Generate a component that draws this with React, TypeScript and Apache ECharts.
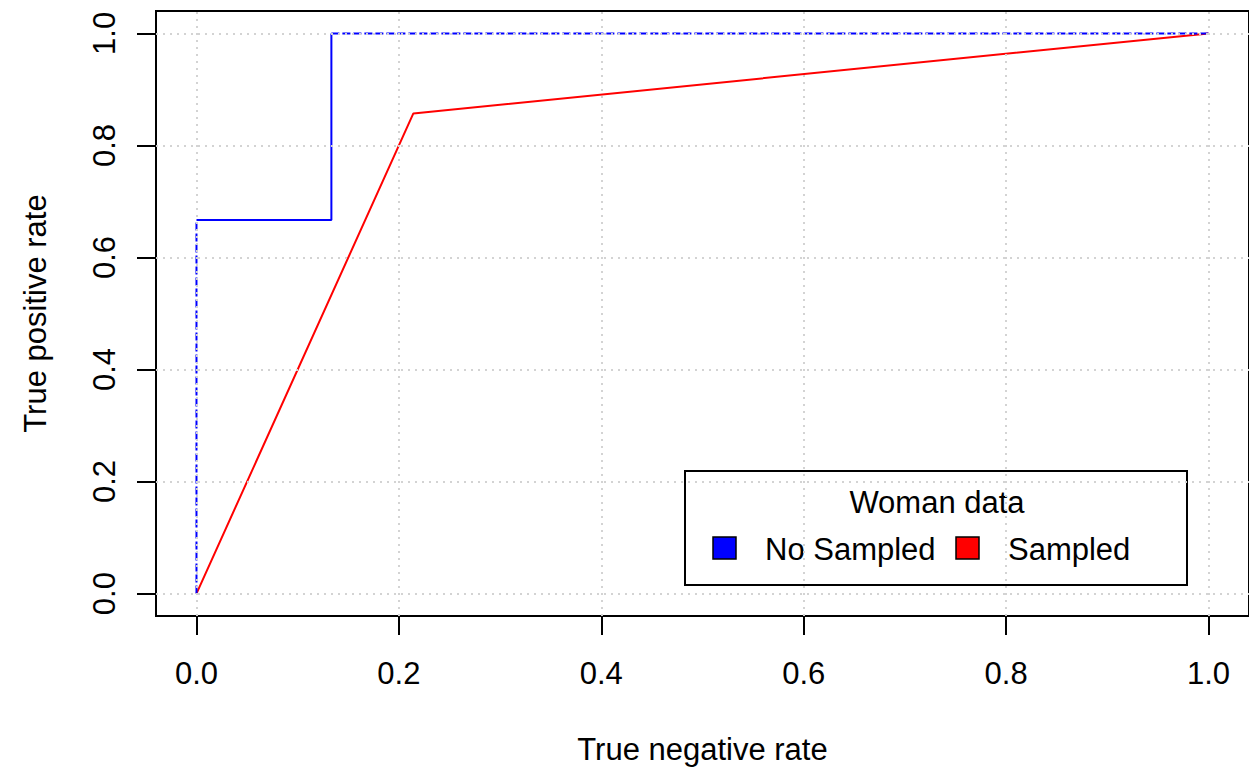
import React, { useEffect, useRef } from "react";
import * as echarts from "echarts";

const tickValues = [0, 0.2, 0.4, 0.6, 0.8, 1.0];
const noSampledX = [0, 0, 0.1333, 0.1333, 1];
const noSampledY = [0, 0.6667, 0.6667, 1, 1];
const sampledX = [0, 0.2143, 1];
const sampledY = [0, 0.8571, 1];
const legendTitle = "Woman data";
const legendNames = ["No Sampled", "Sampled"];
const seriesColors = ["#0000ff", "#ff0000"];

const FONT = "'Liberation Sans', Arial, sans-serif";

export default function App() {
  const ref = useRef<HTMLDivElement>(null);
  useEffect(() => {
    if (!ref.current) return;
    const chart = echarts.init(ref.current, null, { renderer: "svg" });
    const pts = (xs: number[], ys: number[], idx: number[]) => idx.map((i) => [xs[i], ys[i]]);
    const gridLine = { type: [2, 5] as any, color: "#d3d3d3", width: 2 };
    const axisCommon = {
      type: "value" as const,
      min: -0.04,
      max: 1.04,
      splitLine: { show: false },
      axisLine: { show: true, onZero: false, lineStyle: { color: "#000", width: 2 } },
      axisTick: { show: true, inside: false, length: 19, lineStyle: { color: "#000", width: 2 }, customValues: tickValues },
      nameTextStyle: { color: "#000", fontSize: 31, fontFamily: FONT },
      nameLocation: "middle" as const,
    };
    chart.setOption({
      animation: false,
      backgroundColor: "#fff",
      grid: { left: 156, top: 11, width: 1102, height: 605, show: true, borderColor: "#000", borderWidth: 2, backgroundColor: "transparent" },
      xAxis: {
        ...axisCommon,
        name: "True negative rate",
        nameGap: 118,
        axisLabel: {
          customValues: tickValues,
          formatter: (v: number) => v.toFixed(1),
          color: "#000",
          fontSize: 31,
          fontFamily: FONT,
          margin: 42,
        },
      },
      yAxis: {
        ...axisCommon,
        name: "True positive rate",
        nameGap: 105,
        nameRotate: 90,
        axisLabel: {
          customValues: tickValues,
          formatter: (v: number) => v.toFixed(1),
          color: "#000",
          fontSize: 31,
          fontFamily: FONT,
          rotate: 90,
          margin: 36,
        },
      },
      series: [
        {
          type: "line",
          data: [[0, 0]],
          symbol: "none",
          lineStyle: { opacity: 0 },
          silent: true,
          z: 1,
          markLine: {
            silent: true,
            symbol: ["none", "none"],
            label: { show: false },
            lineStyle: gridLine,
            data: [
              ...tickValues.map((v) => ({ xAxis: v })),
              ...tickValues.map((v) => ({ yAxis: v })),
            ],
          },
        },
        {
          type: "line",
          name: legendNames[1],
          data: sampledX.map((x, i) => [x, sampledY[i]]),
          symbol: "none",
          lineStyle: { color: seriesColors[1], width: 2 },
          z: 3,
        },
        {
          type: "line",
          name: legendNames[0],
          data: pts(noSampledX, noSampledY, [1, 2, 3]),
          symbol: "none",
          lineStyle: { color: seriesColors[0], width: 2 },
          z: 4,
        },
        {
          type: "line",
          name: legendNames[0] + " a",
          data: pts(noSampledX, noSampledY, [0, 1]),
          symbol: "none",
          lineStyle: { color: seriesColors[0], width: 2, type: [8, 3] },
          z: 4,
        },
        {
          type: "line",
          name: legendNames[0] + " b",
          data: pts(noSampledX, noSampledY, [3, 4]),
          symbol: "none",
          lineStyle: { color: seriesColors[0], width: 2, type: [8, 3] },
          z: 4,
        },
      ],
      graphic: [
        {
          type: "group",
          z: 100,
          children: [
            { type: "rect", shape: { x: 685, y: 471, width: 502, height: 114 }, style: { fill: "#fff", stroke: "#000", lineWidth: 2 } },
            { type: "text", x: 937, y: 502, style: { text: legendTitle, fill: "#000", font: `31px ${FONT}`, align: "center", verticalAlign: "middle" } },
            { type: "rect", shape: { x: 713, y: 537, width: 23, height: 22 }, style: { fill: seriesColors[0], stroke: "#000", lineWidth: 1.5 } },
            { type: "text", x: 765, y: 549, style: { text: legendNames[0], fill: "#000", font: `31px ${FONT}`, align: "left", verticalAlign: "middle" } },
            { type: "rect", shape: { x: 956, y: 537, width: 23, height: 22 }, style: { fill: seriesColors[1], stroke: "#000", lineWidth: 1.5 } },
            { type: "text", x: 1008, y: 549, style: { text: legendNames[1], fill: "#000", font: `31px ${FONT}`, align: "left", verticalAlign: "middle" } },
          ],
        },
      ],
    });
    return () => chart.dispose();
  }, []);
  return <div ref={ref} style={{ position: "absolute", left: 0, top: 0, width: 1249, height: 771 }} />;
}
